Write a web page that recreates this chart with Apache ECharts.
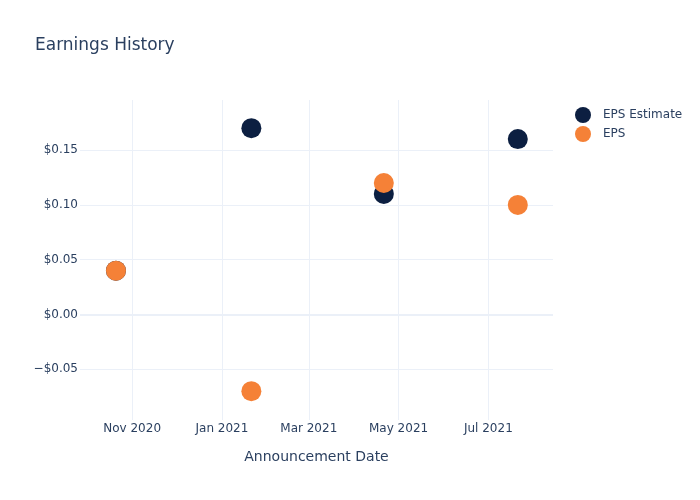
<!DOCTYPE html>
<html>
<head>
<meta charset="utf-8">
<script src="https://cdn.jsdelivr.net/npm/echarts@6/dist/echarts.min.js"></script>
<style>html,body{margin:0;padding:0;background:#fff}#c{width:700px;height:500px}</style>
</head>
<body>
<div id="c"></div>
<script>
const dates = ['2020-10-21', '2021-01-21', '2021-04-21', '2021-07-21'];
const epsEstimate = [0.04, 0.17, 0.11, 0.16];
const eps = [0.04, -0.07, 0.12, 0.10];
const xTicks = ['2020-11-01', '2021-01-01', '2021-03-01', '2021-05-01', '2021-07-01'];
const yTicks = [-0.05, 0, 0.05, 0.10, 0.15];
const xRange = ['2020-09-26T14:00:00Z', '2021-08-13T22:00:00Z'];
const yRange = [-0.0963, 0.1957];

const MONTHS = ['Jan','Feb','Mar','Apr','May','Jun','Jul','Aug','Sep','Oct','Nov','Dec'];
const ts = s => new Date(s.length === 10 ? s + 'T00:00:00Z' : s).getTime();
const font = 'DejaVu Sans, Verdana, sans-serif';
const txt = '#2a3f5f';
const grid = '#EBF0F8';

const chart = echarts.init(document.getElementById('c'), null, {renderer: 'canvas'});
chart.setOption({
  animation: false,
  backgroundColor: '#fff',
  textStyle: {fontFamily: font, color: txt},
  title: {
    text: 'Earnings History', left: 30, top: 32,
    textStyle: {fontFamily: font, fontSize: 17, fontWeight: 'normal', color: txt}
  },
  legend: {
    orient: 'vertical', left: 575, top: 107, padding: 0,
    itemWidth: 16, itemHeight: 16, itemGap: 3, icon: 'circle',
    textStyle: {fontFamily: font, fontSize: 12, color: txt, padding: [0, 0, 0, 7]},
    data: ['EPS Estimate', 'EPS']
  },
  grid: {left: 80, right: 147, top: 100, bottom: 80, containLabel: false},
  xAxis: {
    type: 'value',
    min: ts(xRange[0]), max: ts(xRange[1]),
    name: 'Announcement Date', nameLocation: 'middle', nameGap: 30,
    nameTextStyle: {fontFamily: font, fontSize: 14, color: txt},
    axisLine: {show: false},
    axisTick: {show: false, customValues: xTicks.map(ts)},
    splitLine: {show: true, lineStyle: {color: grid, width: 1}},
    axisLabel: {
      customValues: xTicks.map(ts), margin: 3,
      fontFamily: font, fontSize: 12, color: txt,
      formatter: v => { const d = new Date(v); return MONTHS[d.getUTCMonth()] + ' ' + d.getUTCFullYear(); }
    }
  },
  yAxis: {
    type: 'value', min: yRange[0], max: yRange[1],
    axisLine: {show: false},
    axisTick: {show: false, customValues: yTicks},
    splitLine: {show: true, lineStyle: {color: grid, width: 1}},
    axisLabel: {
      customValues: yTicks, margin: 2,
      fontFamily: font, fontSize: 12, color: txt,
      formatter: v => (v < -1e-9 ? '\u2212$' : '$') + Math.abs(v).toFixed(2)
    }
  },
  series: [
    {
      name: 'EPS Estimate', type: 'scatter', symbolSize: 20,
      itemStyle: {color: '#0c1f41', opacity: 1},
      data: dates.map((d, i) => [ts(d), epsEstimate[i]]),
      markLine: {
        silent: true, symbol: 'none', label: {show: false},
        lineStyle: {color: grid, width: 2, type: 'solid'},
        data: [{yAxis: 0}], z: 1
      },
      z: 3
    },
    {
      name: 'EPS', type: 'scatter', symbolSize: 20,
      itemStyle: {color: '#f58137', opacity: 1},
      data: dates.map((d, i) => [ts(d), eps[i]]),
      z: 4
    }
  ]
});
</script>
</body>
</html>
